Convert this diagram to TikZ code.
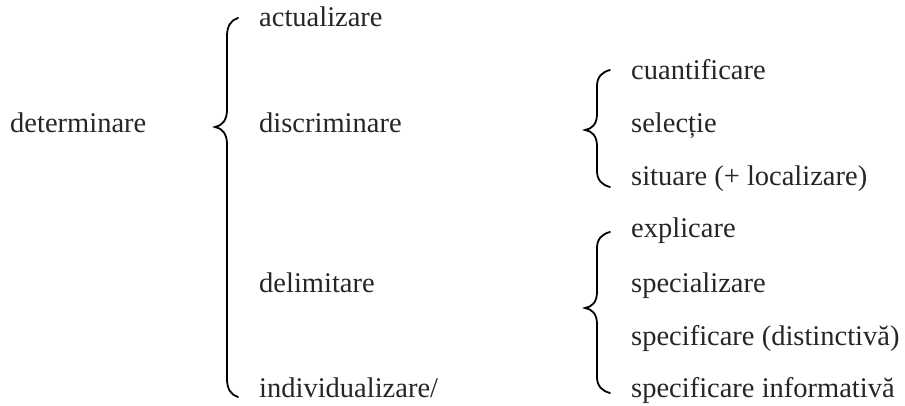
\documentclass[tikz,border=0pt]{standalone}
\usepackage{fontspec}
\setmainfont{Liberation Serif}
\begin{document}
\begin{tikzpicture}[x=1pt,y=-1pt,
  lbl/.style={anchor=base west,inner sep=0pt,font=\fontsize{28.5}{34}\selectfont,text=black!85},
  brace/.style={draw=black,line width=1.8pt,line cap=round}]
\useasboundingbox (0,0) rectangle (905,406);
% text
\node[lbl] (det) at (10,133) {determinare};
\node[lbl] (act) at (259,27) {actualizare};
\node[lbl] (dis) at (259,133) {discriminare};
\node[lbl] (del) at (259,292) {delimitare};
\node[lbl] (ind) at (259,397) {individualizare/};
\node[lbl] (cua) at (631,80) {cuantificare};
\node[lbl] (sel) at (631,133) {selecție};
\node[lbl] (sit) at (631,186) {situare (+ localizare)};
\node[lbl] (exp) at (631,238) {explicare};
\node[lbl] (spe) at (631,292) {specializare};
\node[lbl] (sdi) at (631,345) {specificare (distinctivă)};
\node[lbl] (sin) at (631,397) {specificare informativă};
% braces
\draw[brace] (238,18) .. controls (231,20) and (227,26) .. (227,36) -- (227,110)
  .. controls (227,120) and (222,126) .. (215,127)
  .. controls (222,128) and (227,134) .. (227,144) -- (227,379)
  .. controls (227,389) and (231,395) .. (238,397);
\draw[brace] (610,70) .. controls (602,72) and (597,77) .. (597,86) -- (597,114)
  .. controls (597,124) and (592,129) .. (585,130)
  .. controls (592,131) and (597,136) .. (597,146) -- (597,171)
  .. controls (597,180) and (602,185) .. (610,187);
\draw[brace] (610,232) .. controls (602,234) and (597,239) .. (597,248) -- (597,292)
  .. controls (597,302) and (592,307) .. (585,308)
  .. controls (592,309) and (597,314) .. (597,324) -- (597,377)
  .. controls (597,386) and (602,391) .. (610,393);
\end{tikzpicture}
\end{document}
